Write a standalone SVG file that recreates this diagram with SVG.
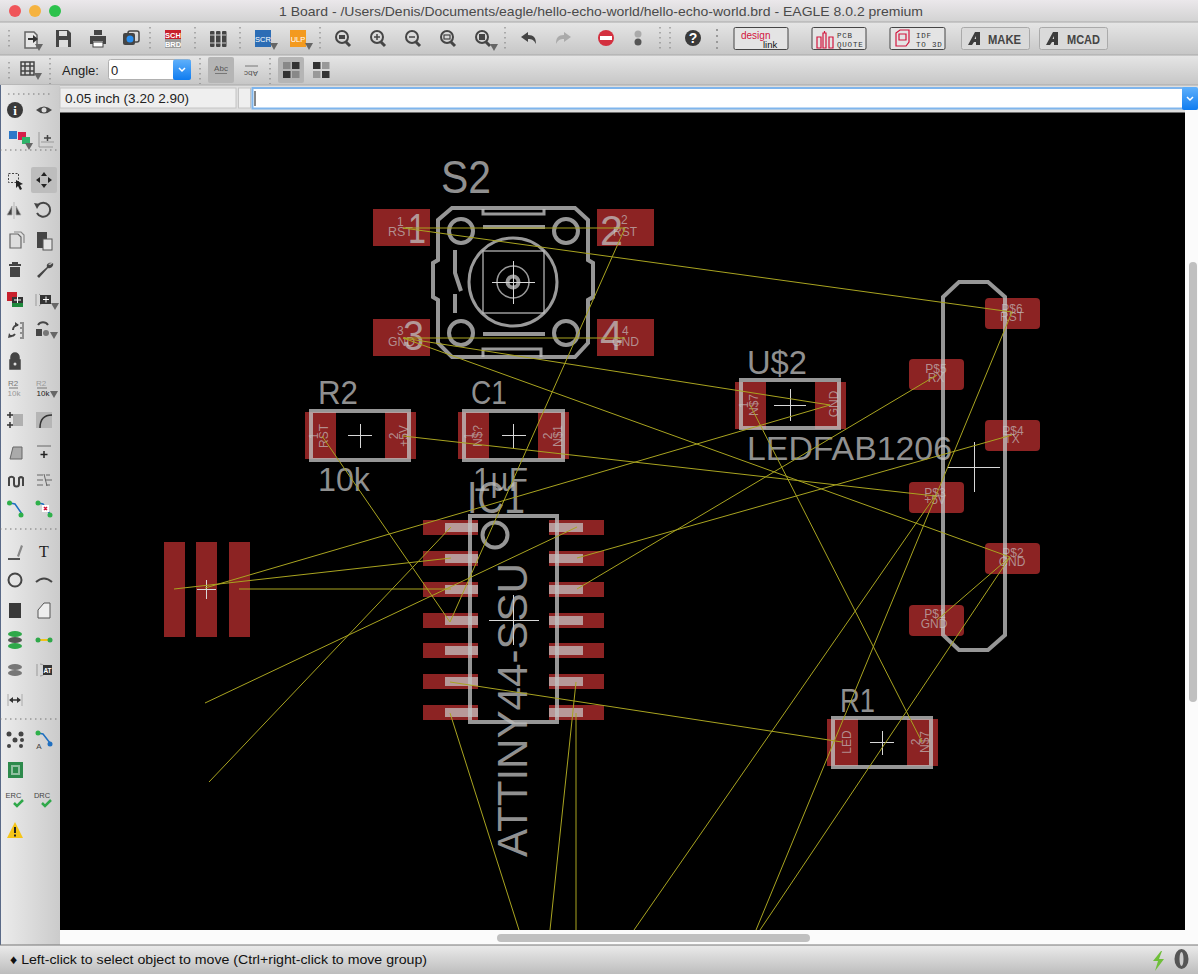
<svg xmlns="http://www.w3.org/2000/svg" width="1198" height="974" viewBox="0 0 1198 974">
<style>
text{font-family:"Liberation Sans",Arial,sans-serif}
.pad{fill:#8c2323}
.silk{fill:none;stroke:#c0c0c0;stroke-opacity:.78;stroke-width:4}
.thin{fill:none;stroke:#c0c0c0;stroke-opacity:.8;stroke-width:3}
.cross{fill:none;stroke:#d8d8d8;stroke-width:1}
.big{fill:#c0c0c0;fill-opacity:.76}
.small{fill:#c8c8c8;fill-opacity:.66;font-size:12px}
.mid{text-anchor:middle}
.pin{fill:#c8c8c8;fill-opacity:.72}
.air{fill:none;stroke:#a9a420;stroke-width:1}
.sep{stroke:#777;stroke-width:1;stroke-dasharray:1.5 3.5;fill:none}
.d{fill:#454545}
.ds{fill:none;stroke:#454545;stroke-width:2}
.g{fill:#8f8f8f}
.gs{fill:none;stroke:#8f8f8f;stroke-width:2}
.lbl{font-size:13px;fill:#222}
.btn{fill:#e4e4e4;stroke:#454545;stroke-width:1}
.btn2{fill:#dadada;stroke:#aaa;stroke-width:1}
.b7{font-size:7.5px;fill:#333;letter-spacing:.8px;font-family:"Liberation Mono",monospace}
.b11{font-size:12px;fill:#444;font-weight:bold;font-family:"Liberation Sans Narrow","Liberation Sans",sans-serif}
.red{fill:none;stroke:#d2143c;stroke-width:1.2}
</style>
<defs>
<linearGradient id="gt" x1="0" y1="0" x2="0" y2="1"><stop offset="0" stop-color="#ebe8eb"/><stop offset="1" stop-color="#d2d2d2"/></linearGradient>
<linearGradient id="gr" x1="0" y1="0" x2="0" y2="1"><stop offset="0" stop-color="#e6e6e6"/><stop offset="1" stop-color="#c6c6c6"/></linearGradient>
<linearGradient id="gl" x1="0" y1="0" x2="1" y2="0"><stop offset="0" stop-color="#ececec"/><stop offset="1" stop-color="#cbcbcb"/></linearGradient>
<linearGradient id="gb" x1="0" y1="0" x2="0" y2="1"><stop offset="0" stop-color="#ebebeb"/><stop offset="1" stop-color="#bdbdbd"/></linearGradient>
<linearGradient id="blue" x1="0" y1="0" x2="0" y2="1"><stop offset="0" stop-color="#5fb0fb"/><stop offset="1" stop-color="#0f7cf0"/></linearGradient>
<g id="mag"><circle cx="0" cy="-1" r="6" fill="none" stroke="#454545" stroke-width="2"/><path d="M4 4l4 4" stroke="#454545" stroke-width="3"/></g>
<path id="tri" d="M0 0h8l-4 7z" fill="#666"/>
<path id="adsk" d="M0 13L7 0h5v13h-4v-3H6l-2 3zM8 7V4L6.500 7z" fill="#3d3d3d"/>
</defs>

<g id="window-chrome">
<rect x="0" y="0" width="1198" height="974" fill="#dcdcdc"/>
<rect x="0" y="0" width="1198" height="22" fill="url(#gt)"/>
<rect x="0" y="22" width="1198" height="33" fill="url(#gr)"/>
<rect x="0" y="55" width="1198" height="30" fill="url(#gr)"/>
<rect x="0" y="85" width="1198" height="27" fill="#dedede"/>
<path d="M0 22H1198M0 55H1198M0 85H1198" stroke="#a8a8a8" fill="none"/>
<circle cx="15" cy="11" r="6" fill="#f0555a"/><circle cx="35" cy="11" r="6" fill="#f5b340"/><circle cx="55" cy="11" r="6" fill="#2cc24c"/>
<text x="279" y="16" font-size="13" fill="#4a4a4a" textLength="644" lengthAdjust="spacingAndGlyphs">1 Board - /Users/Denis/Documents/eagle/hello-echo-world/hello-echo-world.brd - EAGLE 8.0.2 premium</text>
<rect x="0" y="112" width="60" height="833" fill="url(#gl)"/>
<rect x="0" y="85" width="60" height="30" fill="url(#gl)"/>
<rect x="0" y="85" width="1" height="860" fill="#5a6a88"/>
</g>

<g id="toolbar-main">
<path class="sep" d="M9 30V50M150 27V52M195 27V52M240 27V52M320 27V52M505 27V52M660 27V52M670 27V52"/>
<path d="M717 29V50" stroke="#999" stroke-width="2" stroke-dasharray="2 4"/>
<path d="M25 32h9l3 3v13h-12z" fill="#e6e6e6" stroke="#666" stroke-width="1.500"/><path d="M28 38h5v-3l5 4-5 4v-3h-5z" fill="#333"/><use href="#tri" x="35" y="44"/>
<path d="M56 30h12l3 3v14H56z" class="d"/><rect x="59" y="31" width="8" height="5" fill="#ddd"/><rect x="59" y="40" width="9" height="7" fill="#ddd"/>
<path d="M94 30h8v5h-8zM90 36h16v8h-3v-3H93v3h-3z" class="d"/><rect x="93" y="42" width="10" height="5" fill="#fff" stroke="#454545"/>
<rect x="123" y="33" width="12" height="12" rx="2" class="d"/><rect x="128" y="31" width="11" height="11" rx="2" fill="none" stroke="#454545" stroke-width="1.500"/><circle cx="130" cy="39" r="3.500" fill="#2a8ff0"/>
<rect x="165" y="30" width="16" height="9" fill="#c8202c"/><rect x="165" y="39" width="16" height="9" fill="#9a9a9a"/>
<text x="173" y="37.500" font-size="7.500" font-weight="bold" fill="#fff" text-anchor="middle">SCH</text><text x="173" y="46.500" font-size="7.500" font-weight="bold" fill="#fff" text-anchor="middle">BRD</text>
<g class="d"><rect x="210" y="31" width="4.500" height="16" rx="1"/><rect x="216" y="31" width="4.500" height="16" rx="1"/><rect x="222" y="31" width="4.500" height="16" rx="1"/></g>
<path d="M210 35h16M210 43h16" stroke="#ccc"/>
<rect x="255" y="30" width="16" height="17" fill="#2c6db5"/><text x="263" y="42" font-size="7.500" fill="#fff" text-anchor="middle">SCR</text><use href="#tri" x="270" y="43"/>
<rect x="290" y="30" width="16" height="17" fill="#f39a1f"/><text x="298" y="42" font-size="7.500" fill="#fff" text-anchor="middle">ULP</text><use href="#tri" x="305" y="43"/>
<use href="#mag" x="342" y="38"/><rect x="339" y="35" width="6" height="4" class="d"/>
<use href="#mag" x="377" y="38"/><path d="M374 37h6M377 34v6" stroke="#454545" stroke-width="1.500"/>
<use href="#mag" x="412" y="38"/><path d="M409 37h6" stroke="#454545" stroke-width="1.500"/>
<use href="#mag" x="447" y="38"/><rect x="444" y="35" width="6" height="4" fill="none" stroke="#454545" stroke-width="1.200"/>
<use href="#mag" x="482" y="38"/><rect x="479" y="34" width="6" height="6" class="d"/><use href="#tri" x="490" y="44"/>
<path d="M521 37l7-5v3c6 0 8 3 8 9-2-4-4-5-8-5v3z" class="d"/>
<path d="M571 37l-7-5v3c-6 0-8 3-8 9 2-4 4-5 8-5v3z" fill="#aaa"/>
<circle cx="606" cy="38" r="8" fill="#d3303f"/><rect x="600" y="36" width="12" height="4" fill="#fff"/>
<circle cx="638" cy="34" r="3.500" fill="#aaa"/><circle cx="638" cy="42" r="3.500" fill="#555"/>
<circle cx="693" cy="38" r="8" fill="#3a3a3a"/><text x="693" y="43" font-size="14" font-weight="bold" fill="#fff" text-anchor="middle">?</text>
<rect class="btn" x="734" y="27.500" width="54" height="22" rx="1.500"/>
<text x="741" y="39" font-size="10" fill="#d2143c">design</text><text x="763" y="47.500" font-size="9.500" fill="#111">link</text>
<rect class="btn" x="812" y="27.500" width="54" height="22" rx="1.500"/>
<path class="red" d="M817 37h4v11h-4zM823 33h3v15h-3zM829 37h4v11h-4zM824.500 31v2"/>
<text class="b7" x="837" y="38">PCB</text><text class="b7" x="837" y="47">QUOTE</text>
<rect class="btn" x="890" y="27.500" width="55" height="22" rx="1.500"/>
<path class="red" d="M896 33l4-3h9v12l-3 4h-10z M899 34h7v6h-7z" stroke-width="1.500"/>
<text class="b7" x="916" y="38">IDF</text><text class="b7" x="916" y="47">TO 3D</text>
<rect class="btn2" x="961.500" y="27.500" width="68" height="22" rx="2"/><use href="#adsk" x="968" y="32"/><text class="b11" x="988" y="43.500" textLength="33" lengthAdjust="spacingAndGlyphs">MAKE</text>
<rect class="btn2" x="1039.500" y="27.500" width="68" height="22" rx="2"/><use href="#adsk" x="1046" y="32"/><text class="b11" x="1067" y="43.500" textLength="33" lengthAdjust="spacingAndGlyphs">MCAD</text>
</g>

<g id="toolbar-second">
<path class="sep" d="M9 62V82M50 58V84M200 58V84M270 58V84"/>
<path d="M21 62h13v13H21zM25 62v13M30 62v13M21 66h13M21 71h13" fill="none" stroke="#454545" stroke-width="1.500"/><use href="#tri" x="34" y="73"/>
<text class="lbl" x="62" y="75">Angle:</text>
<rect x="108.500" y="59.500" width="82" height="20" rx="2" fill="#fff" stroke="#b0b0b0"/>
<rect x="173" y="59.500" width="18" height="20.500" rx="2" fill="url(#blue)"/><path d="M179 68l3 3 3-3" fill="none" stroke="#fff" stroke-width="1.500"/>
<text class="lbl" x="111" y="75" fill="#111">0</text>
<rect x="208" y="57" width="26" height="26" rx="2" fill="#b5b5b5"/>
<text x="221" y="71" font-size="8" fill="#555" text-anchor="middle">Abc</text><path d="M215 73.500h12" stroke="#777"/>
<text x="251" y="65" font-size="8" fill="#555" text-anchor="middle" transform="rotate(180 251 68)">Abc</text><path d="M245 66h13" stroke="#777"/>
<rect x="278" y="57" width="26" height="26" rx="2" fill="#b5b5b5"/>
<rect x="283" y="62" width="7.500" height="7" fill="#888"/><rect x="292" y="62" width="7.500" height="7" fill="#333"/><rect x="283" y="71" width="7.500" height="7" fill="#333"/><rect x="292" y="71" width="7.500" height="7" fill="#888"/>
<rect x="313" y="62" width="7.500" height="7" fill="#333"/><rect x="322" y="62" width="7.500" height="7" fill="#999"/><rect x="313" y="71" width="7.500" height="7" fill="#999"/><rect x="322" y="71" width="7.500" height="7" fill="#333"/>
</g>

<g id="command-row">
<rect x="60" y="88" width="176" height="20" fill="#efefef" stroke="#c4c4c4"/>
<text class="lbl" x="65" y="103" fill="#111" textLength="124" lengthAdjust="spacingAndGlyphs">0.05 inch (3.20 2.90)</text>
<rect x="238.500" y="88" width="12" height="20" fill="#efefef" stroke="#c4c4c4"/>
<rect x="252.500" y="88" width="932" height="20.500" fill="#fff" stroke="#7fb5ec" stroke-width="2"/>
<path d="M255 91v15" stroke="#111"/>
<rect x="1182" y="87" width="16" height="23" rx="2" fill="url(#blue)"/><path d="M1187 97l3 3 3-3" fill="none" stroke="#fff" stroke-width="1.500"/>
</g>

<g id="toolbar-left">
<path class="sep" d="M8 94H52M0 150H60M0 529H60M0 719H60" stroke-dasharray="1.500 3.500"/>
<rect x="31" y="167" width="26" height="26" rx="2" fill="#bdbdbd"/>
<circle cx="15" cy="110" r="8" fill="#3a3a3a"/><text x="15" y="115" font-size="13" font-weight="bold" fill="#fff" text-anchor="middle" style="font-family:'Liberation Serif',serif">i</text>
<path d="M36 110q8-7 16 0q-8 7-16 0z" class="d"/><circle cx="44" cy="110" r="2.500" fill="#ddd"/>
<rect x="18" y="132" width="8" height="8" fill="#d61f4a"/><rect x="22" y="137" width="8" height="7" fill="#2fb36a"/><rect x="9" y="131" width="8" height="8" fill="#2c78c8"/><use href="#tri" x="25" y="143"/>
<path d="M39 132v15h14M41 142h13" stroke="#999" fill="none"/><path d="M44 138h7M47.500 135v6" stroke="#444" stroke-width="1.500"/>
<rect x="8.500" y="173.500" width="10" height="9" fill="none" stroke="#444" stroke-dasharray="2 1.500"/><path d="M16 180l7 4-3 1 2 4-2 1-2-4-2 2z" fill="#222"/>
<path d="M44 172l3 4h-6zM44 188l3-4h-6zM36 180l4-3v6zM52 180l-4-3v6z" fill="#222"/>
<path d="M14 202v17M12 206l-5 9h5zM16 206l5 9h-5z" class="d" stroke="#aaa" stroke-width=".8"/>
<path d="M38 205a7 7 0 1 1-1 8" class="ds"/><path d="M34 203l6 1-3 5z" class="d"/>
<path d="M10 234h8l3 3v11H10z" fill="#ddd" stroke="#666" stroke-width="1.200"/><path d="M14 232h7l3 3v8" fill="none" stroke="#888" stroke-width="1.200"/>
<path d="M37 232h10v16H37z" class="d"/><rect x="43" y="239" width="9" height="11" fill="#e5e5e5" stroke="#555"/>
<path d="M9 264h12v2H9zM12 262h6v2h-6zM10 267h10v10H10z" class="d"/>
<path d="M52 263c-3-1-6 1-5 4l-10 9 2 2 9-10c3 1 6-2 5-5l-3 2-2-1z" class="d"/>
<rect x="7" y="292" width="10" height="9" fill="#c8202c"/><rect x="12" y="302" width="11" height="5" fill="#1e8a3c"/><rect x="12" y="297" width="11" height="6" fill="#333"/><path d="M14 300h7M17.500 297v6" stroke="#fff"/>
<path d="M36 294v12M39 294a7 7 0 0 1 0 12" stroke="#999" fill="none"/><rect x="40" y="295" width="11" height="9" fill="#333"/><path d="M43 299.500h6M46 296.500v6" stroke="#fff"/><use href="#tri" x="51" y="303"/>
<path d="M18 325a5 5 0 0 0-5 5M10 336a5 5 0 0 0 5-2" class="ds"/><path d="M15 322l4 3-4 2zM9 333l3 4-4 1z" class="d"/><path d="M20 323h3v15h-3M20 328h4M20 333h4" class="gs" stroke-width="1"/>
<rect x="36" y="329" width="6" height="7" class="d"/><circle cx="46" cy="333" r="3" fill="#777"/><path d="M38 325a6 6 0 0 1 10 0" class="ds"/><use href="#tri" x="50" y="332"/>
<path d="M10 360h10v9H10z M11 360v-3a4 4 0 0 1 8 0v3" class="d" stroke="#454545" stroke-width="1.500"/><circle cx="15" cy="364" r="1.500" fill="#ddd"/>
<text x="13" y="386" font-size="8" fill="#777" text-anchor="middle">R2</text><path d="M9 388h9" stroke="#777"/><text x="14" y="396" font-size="8" fill="#999" text-anchor="middle">10k</text>
<text x="41" y="386" font-size="8" fill="#999" text-anchor="middle">R2</text><path d="M37 388h10" stroke="#777"/><text x="43" y="396" font-size="8" fill="#222" text-anchor="middle">10k</text><use href="#tri" x="50" y="391"/>
<path d="M7 415h6M10 412v6M7 425h6M10 422v6" stroke="#333" stroke-width="1.500"/><rect x="13" y="414" width="10" height="12" fill="#b0b0b0"/>
<rect x="36" y="412" width="16" height="16" fill="#b5b5b5"/><path d="M40 428c0-8 4-13 12-13" fill="none" stroke="#333" stroke-width="1.500"/>
<path d="M10 459l3-12h9v12z" fill="#aaa" stroke="#666"/>
<path d="M37 446h14" stroke="#666"/><path d="M44 451v7M40.500 454.500h7" stroke="#222" stroke-width="1.500"/>
<path d="M9 486v-8a3 3 0 0 1 5 0v6a2.500 2.500 0 0 0 5 0v-6a3 3 0 0 1 4 0v8" class="ds"/>
<path d="M37 475h6M37 480h6M37 485h6M46 475l4 0M45 480h7M46 485h4M44 474l3 12" stroke="#666" fill="none"/>
<path d="M10 503l5 1 7 10" fill="none" stroke="#1f6fc0" stroke-width="1.500"/><circle cx="9.500" cy="503" r="2.500" fill="#2fb04a"/><circle cx="21" cy="515" r="2.500" fill="#2fb04a"/>
<path d="M38 503l5 1 7 10" fill="none" stroke="#1f6fc0" stroke-width="1.500"/><circle cx="38" cy="503" r="2.500" fill="#2fb04a"/><circle cx="50" cy="515" r="2.500" fill="#2fb04a"/><rect x="42" y="505" width="7" height="7" fill="#fff"/><path d="M44 507l3 3M47 507l-3 3" stroke="#d2143c" stroke-width="1.500"/>
<path d="M8 559h12" stroke="#222" stroke-width="1.500"/><path d="M17 556l4-11 2 1-4 11z" fill="#888"/>
<text x="44" y="557" font-size="16" fill="#222" text-anchor="middle" style="font-family:'Liberation Serif',serif">T</text>
<circle cx="15" cy="580" r="6.500" class="ds"/>
<path d="M36 582q8-7 16 0" class="ds"/>
<rect x="9" y="603" width="12" height="15" fill="#3a3a3a"/>
<path d="M38 618v-8l6-7h6v15z" fill="#eee" stroke="#555"/>
<ellipse cx="15" cy="634" rx="7" ry="3" fill="#2fa84a"/><ellipse cx="15" cy="640" rx="7" ry="3" fill="#555"/><ellipse cx="15" cy="646" rx="7" ry="3" fill="#2fa84a"/>
<path d="M38 640h12" stroke="#f2c21a" stroke-width="2"/><circle cx="38" cy="640" r="2.500" fill="#2fa84a"/><circle cx="50" cy="640" r="2.500" fill="#2fa84a"/>
<ellipse cx="15" cy="667" rx="7" ry="3" fill="#777"/><ellipse cx="15" cy="673" rx="7" ry="3" fill="#777"/>
<path d="M37 664v12M40 664a6 6 0 0 1 0 12" stroke="#999" fill="none"/><rect x="43" y="665" width="9" height="10" fill="#333"/><text x="47.500" y="673" font-size="6.500" fill="#fff" font-weight="bold" text-anchor="middle">AT</text>
<path d="M8 694v12M22 694v12" stroke="#aaa"/><path d="M10 700h10" stroke="#333" stroke-width="1.500"/><path d="M9 700l4-3v6zM21 700l-4-3v6z" fill="#333"/>
<g fill="#444"><circle cx="9" cy="734" r="2.500"/><circle cx="21" cy="734" r="2.500"/><circle cx="15" cy="740" r="2.500"/><circle cx="9" cy="746" r="2"/><circle cx="21" cy="746" r="2"/><circle cx="22" cy="740" r="2"/></g>
<path d="M38 733l5 1 7 9" fill="none" stroke="#1f6fc0" stroke-width="1.500"/><circle cx="38" cy="733" r="2.500" fill="#2fb04a"/><circle cx="50" cy="744" r="2.500" fill="#1f6fc0"/><text x="39" y="749" font-size="8" fill="#444" text-anchor="middle">A</text>
<rect x="8" y="762" width="15" height="16" fill="#2d8a4c"/><rect x="11" y="765" width="9" height="10" fill="#8fbf9f"/><path d="M13 767h5v6h-5z" fill="#2d8a4c"/>
<text x="13.500" y="798" font-size="7.500" fill="#444" text-anchor="middle">ERC</text><path d="M14 803l3 3 6-6" fill="none" stroke="#2fa84a" stroke-width="2.500"/>
<text x="42" y="798" font-size="7.500" fill="#444" text-anchor="middle">DRC</text><path d="M42 803l3 3 6-6" fill="none" stroke="#2fa84a" stroke-width="2.500"/>
<path d="M15 822l8 16H7z" fill="#f5c518"/><rect x="14" y="827" width="2" height="6" fill="#222"/><rect x="14" y="834.500" width="2" height="2" fill="#222"/>
</g>

<g id="scroll-and-status">
<rect x="60" y="930" width="1138" height="15" fill="#fbfbfb"/>
<rect x="1185" y="110" width="13" height="835" fill="#fbfbfb"/>
<rect x="497" y="934" width="313" height="8" rx="4" fill="#c0c0c0"/>
<rect x="1189" y="262" width="8" height="440" rx="4" fill="#c0c0c0"/>
<rect x="0" y="945" width="1198" height="29" fill="url(#gb)"/>
<path d="M0 945H1198" stroke="#777"/>
<text x="10" y="964" font-size="13" fill="#111" textLength="417" lengthAdjust="spacingAndGlyphs">♦ Left-click to select object to move (Ctrl+right-click to move group)</text>
<path d="M1161 951l-8 10h5l-3 10 9-12h-5l3-8z" fill="#6fbf3a"/>
<ellipse cx="1181.500" cy="959" rx="7" ry="10" fill="#555"/><ellipse cx="1181.500" cy="959" rx="2" ry="7" fill="#ccc"/>
</g>

<rect id="board" x="60" y="112.500" width="1125" height="817.500" fill="#000"/>

<g id="X1">
<rect class="pad" x="164" y="542" width="21" height="95"/><rect class="pad" x="196" y="542" width="21" height="95"/><rect class="pad" x="229" y="542" width="21" height="95"/>
<path class="cross" d="M197 589.500h19M206.500 580v19"/>
</g>

<g id="S2">
<rect class="pad" x="373" y="209" width="57" height="37"/><rect class="pad" x="597" y="209" width="57" height="37"/>
<rect class="pad" x="373" y="319" width="57" height="37"/><rect class="pad" x="597" y="319" width="57" height="37"/>
<path class="silk" stroke-width="3" d="M452 208H575L588 220V260L593 263V297L588 300V343L575 357H452L438 343V300L433 297V263L438 260V220Z"/>
<circle class="silk" cx="461" cy="231" r="12"/><circle class="silk" cx="566" cy="231" r="12"/><circle class="silk" cx="461" cy="333" r="12"/><circle class="silk" cx="566" cy="333" r="12"/>
<path class="thin" d="M483 209V214H544V209M483 357V349H541V357"/>
<path class="silk" d="M483 227H545M483 334H545M455 250L455 273L461 291M455 294V313"/>
<circle class="thin" cx="513" cy="282" r="44"/>
<rect x="483" y="251" width="61" height="62" fill="none" stroke="#c0c0c0" stroke-opacity=".8" stroke-width="1.500"/>
<circle cx="513" cy="282" r="16" fill="none" stroke="#c0c0c0" stroke-opacity=".8" stroke-width="1.500"/>
<circle class="silk" cx="513" cy="282" r="5.500"/>
<path class="cross" d="M492 282.500h43M513.500 261v43"/>
<text class="big" x="441" y="193" font-size="46" textLength="50" lengthAdjust="spacingAndGlyphs">S2</text>
<text class="big" x="408" y="243" font-size="42" textLength="18" lengthAdjust="spacingAndGlyphs">1</text>
<text class="big" x="600" y="245" font-size="42" textLength="23" lengthAdjust="spacingAndGlyphs">2</text>
<text class="big" x="403" y="350" font-size="42" textLength="21" lengthAdjust="spacingAndGlyphs">3</text>
<text class="big" x="600" y="350" font-size="42" textLength="23" lengthAdjust="spacingAndGlyphs">4</text>
<text class="small" x="397" y="226">1</text><text class="small" x="388" y="236" textLength="25" lengthAdjust="spacingAndGlyphs">RST</text>
<text class="small" x="621" y="224">2</text><text class="small" x="613" y="236" textLength="24" lengthAdjust="spacingAndGlyphs">RST</text>
<text class="small" x="397" y="335">3</text><text class="small" x="388" y="346" textLength="27" lengthAdjust="spacingAndGlyphs">GND</text>
<text class="small" x="622" y="335">4</text><text class="small" x="612" y="346" textLength="27" lengthAdjust="spacingAndGlyphs">GND</text>
</g>

<g id="R2">
<rect class="pad" x="305" y="412" width="31" height="47"/><rect class="pad" x="385" y="412" width="31" height="47"/>
<rect class="silk" x="311" y="411" width="98" height="49"/>
<path class="cross" d="M348 435.500h24M360.500 424v24"/>
<text class="big" x="318" y="404" font-size="33" textLength="40" lengthAdjust="spacingAndGlyphs">R2</text>
<text class="big" x="318" y="491" font-size="33" textLength="52" lengthAdjust="spacingAndGlyphs">10k</text>
<text class="small" transform="translate(318 436) rotate(-90)" text-anchor="middle">1</text>
<text class="small" transform="translate(328 436) rotate(-90)" text-anchor="middle">RST</text>
<text class="small" transform="translate(398 436) rotate(-90)" text-anchor="middle">2</text>
<text class="small" transform="translate(408 436) rotate(-90)" text-anchor="middle">+5V</text>
</g>

<g id="C1">
<rect class="pad" x="458" y="412" width="31" height="47"/><rect class="pad" x="538" y="412" width="31" height="47"/>
<rect class="silk" x="464" y="411" width="99" height="49"/>
<path class="cross" d="M502 435.500h24M513.500 424v24"/>
<text class="big" x="471" y="404" font-size="33" textLength="36" lengthAdjust="spacingAndGlyphs">C1</text>
<text class="big" x="473" y="491" font-size="33" textLength="55" lengthAdjust="spacingAndGlyphs">1µF</text>
<text class="small" transform="translate(473 436) rotate(-90)" text-anchor="middle">1</text>
<text class="small" transform="translate(482 436) rotate(-90)" text-anchor="middle">N$?</text>
<text class="small" transform="translate(552 436) rotate(-90)" text-anchor="middle">2</text>
<text class="small" transform="translate(562 436) rotate(-90)" text-anchor="middle">N$1</text>
</g>

<g id="U2">
<rect class="pad" x="735" y="382" width="31" height="47"/><rect class="pad" x="815" y="382" width="31" height="47"/>
<rect class="silk" x="741" y="380" width="98" height="48"/>
<path class="cross" d="M774 405.500h32M790.500 389v32"/>
<text class="big" x="747" y="374" font-size="33" textLength="60" lengthAdjust="spacingAndGlyphs">U$2</text>
<text class="big" x="747" y="460" font-size="33" textLength="205" lengthAdjust="spacingAndGlyphs">LEDFAB1206</text>
<text class="small" transform="translate(748 405) rotate(-90)" text-anchor="middle">1</text>
<text class="small" transform="translate(758 405) rotate(-90)" text-anchor="middle">N$7</text>
<text class="small" transform="translate(838 404) rotate(-90)" text-anchor="middle">GND</text>
</g>

<g id="IC1">
<g class="pad">
<rect x="423" y="520" width="55" height="15"/><rect x="423" y="551" width="55" height="15"/><rect x="423" y="582" width="55" height="15"/><rect x="423" y="613" width="55" height="15"/><rect x="423" y="643" width="55" height="15"/><rect x="423" y="674" width="55" height="15"/><rect x="423" y="705" width="55" height="15"/>
<rect x="549" y="520" width="55" height="15"/><rect x="549" y="551" width="55" height="15"/><rect x="549" y="582" width="55" height="15"/><rect x="549" y="613" width="55" height="15"/><rect x="549" y="643" width="55" height="15"/><rect x="549" y="674" width="55" height="15"/><rect x="549" y="705" width="55" height="15"/>
</g>
<g class="pin">
<rect x="445" y="523" width="33" height="9"/><rect x="445" y="554" width="33" height="9"/><rect x="445" y="585" width="33" height="9"/><rect x="445" y="616" width="33" height="9"/><rect x="445" y="646" width="33" height="9"/><rect x="445" y="677" width="33" height="9"/><rect x="445" y="708" width="33" height="9"/>
<rect x="549" y="523" width="34" height="9"/><rect x="549" y="554" width="34" height="9"/><rect x="549" y="585" width="34" height="9"/><rect x="549" y="616" width="34" height="9"/><rect x="549" y="646" width="34" height="9"/><rect x="549" y="677" width="34" height="9"/><rect x="549" y="708" width="34" height="9"/>
</g>
<rect class="silk" x="470" y="516" width="87" height="206"/>
<circle class="silk" cx="495" cy="535" r="12.500"/>
<path class="cross" d="M489 620.500h50M513.500 595v50"/>
<text class="big" x="467" y="513" font-size="44" textLength="58" lengthAdjust="spacingAndGlyphs">IC1</text>
<text class="big" transform="translate(527 857) rotate(-90)" font-size="42" textLength="294" lengthAdjust="spacingAndGlyphs">ATTINY44-SSU</text>
</g>

<g id="R1">
<rect class="pad" x="827" y="719" width="31" height="47"/><rect class="pad" x="907" y="719" width="31" height="47"/>
<rect class="silk" x="833" y="718" width="98" height="49"/>
<path class="cross" d="M870 742.500h24M882.500 731v24"/>
<text class="big" x="840" y="712" font-size="33" textLength="35" lengthAdjust="spacingAndGlyphs">R1</text>
<text class="small" transform="translate(851 742) rotate(-90)" text-anchor="middle">LED</text>
<text class="small" transform="translate(920 742) rotate(-90)" text-anchor="middle">2</text>
<text class="small" transform="translate(929 742) rotate(-90)" text-anchor="middle">N$7</text>
</g>

<g id="FTDI">
<rect class="pad" x="985" y="298" width="55" height="31" rx="4"/><rect class="pad" x="985" y="420" width="55" height="31" rx="4"/><rect class="pad" x="985" y="543" width="55" height="31" rx="4"/>
<rect class="pad" x="909" y="359" width="55" height="31" rx="4"/><rect class="pad" x="909" y="482" width="55" height="31" rx="4"/><rect class="pad" x="909" y="605" width="55" height="31" rx="4"/>
<path class="silk" d="M943 297L959 282H988L1005 297V635L988 650H959L943 635Z"/>
<path class="cross" d="M948 467.500h52M974.500 442v50"/>
<text class="small mid" x="1012" y="313">P$6</text><text class="small mid" x="1012" y="321">RST</text>
<text class="small mid" x="936" y="373">P$5</text><text class="small mid" x="936" y="382">RX</text>
<text class="small mid" x="1013" y="435">P$4</text><text class="small mid" x="1012" y="443">TX</text>
<text class="small mid" x="935" y="497">P$3</text><text class="small mid" x="935" y="504">+5V</text>
<text class="small mid" x="1013" y="557">P$2</text><text class="small mid" x="1012" y="566">GND</text>
<text class="small mid" x="935" y="618">P$1</text><text class="small mid" x="934" y="628">GND</text>
</g>

<g id="connectors" class="air">
<path d="M403 228L625 228"/>
<path d="M403 228L1012 312"/>
<path d="M625 228L450 622"/>
<path d="M403 338L625 338"/>
<path d="M403 338L830 405"/>
<path d="M403 338L1010 557"/>
<path d="M403 436L935 496"/>
<path d="M322 436L450 622"/>
<path d="M174 589L451 558"/>
<path d="M239 589L451 589"/>
<path d="M205 588L830 405"/>
<path d="M209 782L451 527"/>
<path d="M205 703L577 527"/>
<path d="M577 589L937 375"/>
<path d="M577 558L1012 435"/>
<path d="M450 682L842 742"/>
<path d="M576 682L550 930"/>
<path d="M450 713L519 930"/>
<path d="M576 713L576 930"/>
<path d="M935 496L634 930"/>
<path d="M1012 312L756 930"/>
<path d="M1010 557L760 930"/>
<path d="M937 620L1010 557"/>
<path d="M750 405L922 742"/>
</g>
</svg>
